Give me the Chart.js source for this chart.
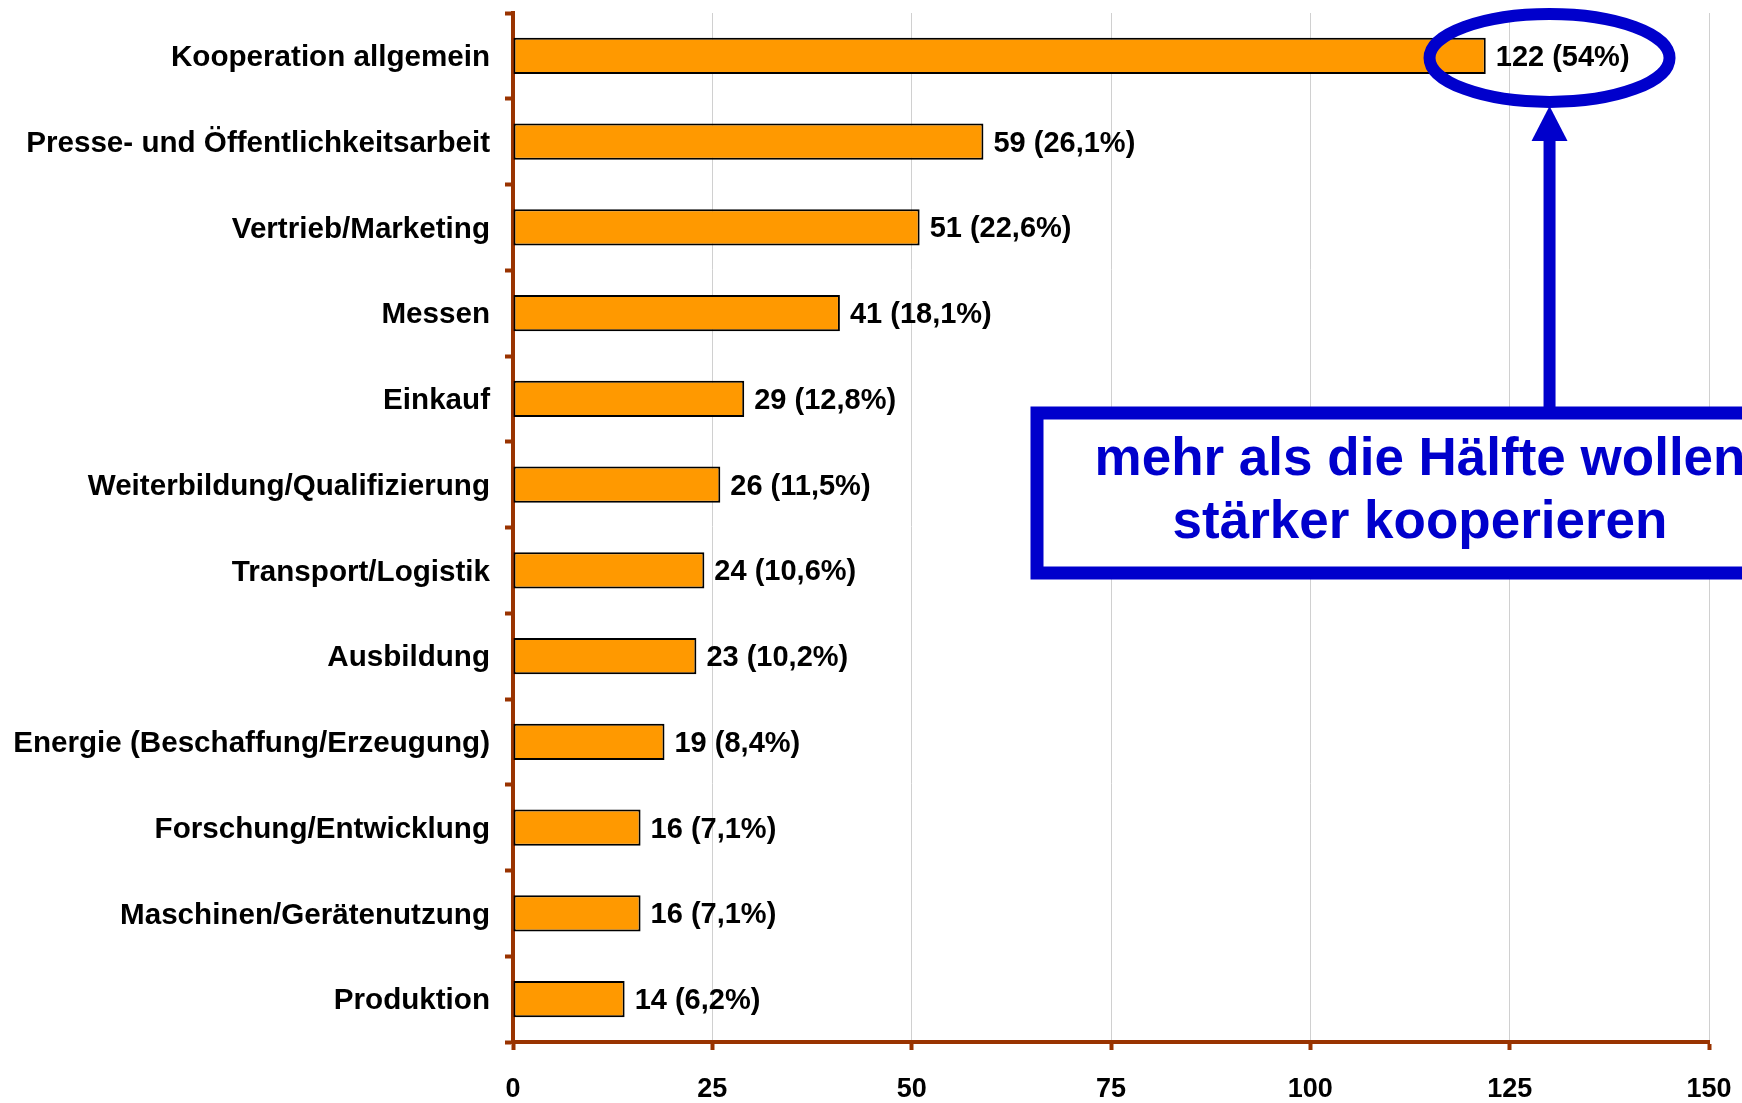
<!DOCTYPE html>
<html>
  <head>
    <meta charset="utf-8">
    <style type="text/css">
      body { margin: 0; background: #ffffff; }
      .chart-container { width: 1742px; height: 1103px; }
    </style>
  </head>
  <body>
    <script src="https://cdn.jsdelivr.net/npm/chart.js@4.4.1/dist/chart.umd.min.js"></script>

    <div class="chart-container">
      <canvas id="myChart" width="1742" height="1103"></canvas>
    </div>

    <script>
      /* datas */
      const categories = ['Kooperation allgemein', 'Presse- und Öffentlichkeitsarbeit', 'Vertrieb/Marketing',
        'Messen', 'Einkauf', 'Weiterbildung/Qualifizierung', 'Transport/Logistik', 'Ausbildung',
        'Energie (Beschaffung/Erzeugung)', 'Forschung/Entwicklung', 'Maschinen/Gerätenutzung', 'Produktion'];
      const counts = [122, 59, 51, 41, 29, 26, 24, 23, 19, 16, 16, 14];
      const shares = ['54', '26,1', '22,6', '18,1', '12,8', '11,5', '10,6', '10,2', '8,4', '7,1', '7,1', '6,2'];
      const xMin = 0, xMax = 150, xStep = 25;
      const noteLines = ['mehr als die Hälfte wollen', 'stärker kooperieren'];
      const highlightValue = 130; // where the circle + arrow sit on the x scale

      const FONT = "'Liberation Sans', Arial, sans-serif";
      const BROWN = '#993300';
      const BLUE = '#0000cc';

      // value labels like "122 (54%)" at the end of each bar
      const valueLabels = {
        id: 'valueLabels',
        afterDatasetsDraw(chart) {
          const ctx = chart.ctx;
          const meta = chart.getDatasetMeta(0);
          ctx.save();
          ctx.font = 'bold 29px ' + FONT;
          ctx.fillStyle = '#000';
          ctx.textAlign = 'left';
          ctx.textBaseline = 'middle';
          meta.data.forEach((bar, i) => {
            ctx.fillText(counts[i] + ' (' + shares[i] + '%)', bar.x + 10, bar.y + 2);
          });
          ctx.restore();
        }
      };

      // blue ellipse, arrow and text box
      const callout = {
        id: 'callout',
        afterDraw(chart) {
          const ctx = chart.ctx;
          const xs = chart.scales.x, ys = chart.scales.y;
          const cx = xs.getPixelForValue(highlightValue);
          const cy = ys.getPixelForValue(0) + 2;
          ctx.save();
          ctx.strokeStyle = BLUE;
          ctx.fillStyle = BLUE;

          // ellipse
          ctx.lineWidth = 12;
          ctx.beginPath();
          ctx.ellipse(cx, cy, 120, 44, 0, 0, 2 * Math.PI);
          ctx.stroke();

          // box
          const boxLeft = 1037, boxTop = 413, boxBottom = 573, boxMid = 1420;
          const boxRight = 2 * boxMid - boxLeft;

          // arrow shaft + head
          ctx.fillRect(cx - 6, 140, 12, boxTop - 140);
          ctx.beginPath();
          ctx.moveTo(cx, 106);
          ctx.lineTo(cx + 18, 141);
          ctx.lineTo(cx - 18, 141);
          ctx.closePath();
          ctx.fill();

          ctx.fillStyle = '#fff';
          ctx.fillRect(boxLeft, boxTop, boxRight - boxLeft, boxBottom - boxTop);
          ctx.lineWidth = 13;
          ctx.strokeRect(boxLeft, boxTop, boxRight - boxLeft, boxBottom - boxTop);

          ctx.fillStyle = BLUE;
          ctx.font = 'bold 53px ' + FONT;
          ctx.textAlign = 'center';
          ctx.textBaseline = 'middle';
          ctx.fillText(noteLines[0], boxMid, 460);
          ctx.fillText(noteLines[1], boxMid, 523);
          ctx.restore();
        }
      };

      /* create our chart */
      const myChart = new Chart('myChart', {
        type: 'bar',
        data: {
          labels: categories,
          datasets: [{
            data: counts,
            backgroundColor: '#ff9900',
            borderColor: '#000000',
            borderWidth: 2,
            borderSkipped: false,
            barPercentage: 0.42,
            categoryPercentage: 1
          }]
        },
        options: {
          indexAxis: 'y',
          responsive: false,
          animation: false,
          layout: { padding: { top: 13, right: 33, bottom: 0, left: 0 } },
          plugins: {
            legend: { display: false },
            tooltip: { enabled: false }
          },
          scales: {
            x: {
              min: xMin,
              max: xMax,
              ticks: {
                stepSize: xStep,
                color: '#000',
                padding: 23,
                font: { family: FONT, size: 27, weight: 'bold' }
              },
              grid: {
                color: '#d0d0d0',
                lineWidth: 1,
                tickColor: BROWN,
                tickWidth: 4,
                tickLength: 8
              },
              border: { color: BROWN, width: 4 },
              afterFit(scale) {
                scale.height = 61;
                scale.paddingLeft = 0;
                scale.paddingRight = 0;
              }
            },
            y: {
              z: 1,
              offset: true,
              ticks: {
                color: '#000',
                padding: 15,
                labelOffset: 2,
                font: { family: FONT, size: 29.6, weight: 'bold' }
              },
              grid: {
                offset: true,
                drawOnChartArea: false,
                tickColor: BROWN,
                tickWidth: 4,
                tickLength: 8
              },
              border: { color: BROWN, width: 4 },
              afterFit(scale) {
                scale.width = 513;
                scale.paddingTop = 0;
                scale.paddingBottom = 0;
              }
            }
          }
        },
        plugins: [valueLabels, callout]
      });
    </script>
  </body>
</html>
